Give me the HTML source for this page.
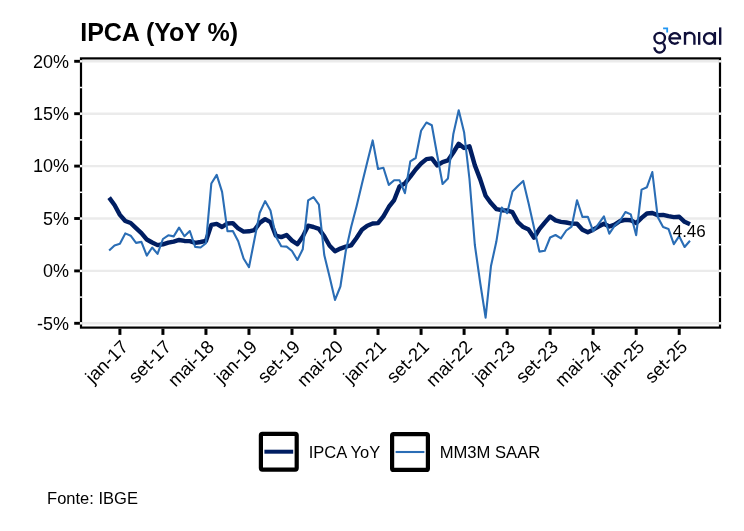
<!DOCTYPE html>
<html><head><meta charset="utf-8"><style>
html,body{margin:0;padding:0;background:#fff;width:744px;height:531px;overflow:hidden}
svg{display:block;will-change:transform}
</style></head><body>
<svg width="744" height="531" viewBox="0 0 744 531"><rect width="744" height="531" fill="#fff"/><text x="80.2" y="41" style="font-family:'Liberation Sans',sans-serif;font-weight:bold;font-size:25px" fill="#000">IPCA (YoY %)</text><line x1="81.0" x2="720.0" y1="61.30" y2="61.30" stroke="#ebebeb" stroke-width="2.4"/><line x1="81.0" x2="720.0" y1="113.70" y2="113.70" stroke="#ebebeb" stroke-width="2.4"/><line x1="81.0" x2="720.0" y1="166.10" y2="166.10" stroke="#ebebeb" stroke-width="2.4"/><line x1="81.0" x2="720.0" y1="218.50" y2="218.50" stroke="#ebebeb" stroke-width="2.4"/><line x1="81.0" x2="720.0" y1="270.90" y2="270.90" stroke="#ebebeb" stroke-width="2.4"/><line x1="81.0" x2="720.0" y1="323.30" y2="323.30" stroke="#ebebeb" stroke-width="2.4"/><rect x="81.0" y="58.4" width="639.0" height="269.20000000000005" fill="none" stroke="#000" stroke-width="2.2"/><rect x="79.70" y="60.10" width="2.6" height="2.4" fill="#f8f8f8"/><rect x="718.70" y="60.10" width="2.6" height="2.4" fill="#f8f8f8"/><rect x="79.70" y="112.50" width="2.6" height="2.4" fill="#f8f8f8"/><rect x="718.70" y="112.50" width="2.6" height="2.4" fill="#f8f8f8"/><rect x="79.70" y="164.90" width="2.6" height="2.4" fill="#f8f8f8"/><rect x="718.70" y="164.90" width="2.6" height="2.4" fill="#f8f8f8"/><rect x="79.70" y="217.30" width="2.6" height="2.4" fill="#f8f8f8"/><rect x="718.70" y="217.30" width="2.6" height="2.4" fill="#f8f8f8"/><rect x="79.70" y="269.70" width="2.6" height="2.4" fill="#f8f8f8"/><rect x="718.70" y="269.70" width="2.6" height="2.4" fill="#f8f8f8"/><rect x="79.70" y="322.10" width="2.6" height="2.4" fill="#f8f8f8"/><rect x="718.70" y="322.10" width="2.6" height="2.4" fill="#f8f8f8"/><rect x="79.70" y="86.75" width="2.6" height="1.5" fill="#fff"/><rect x="718.70" y="86.75" width="2.6" height="1.5" fill="#fff"/><rect x="79.70" y="139.15" width="2.6" height="1.5" fill="#fff"/><rect x="718.70" y="139.15" width="2.6" height="1.5" fill="#fff"/><rect x="79.70" y="191.55" width="2.6" height="1.5" fill="#fff"/><rect x="718.70" y="191.55" width="2.6" height="1.5" fill="#fff"/><rect x="79.70" y="243.95" width="2.6" height="1.5" fill="#fff"/><rect x="718.70" y="243.95" width="2.6" height="1.5" fill="#fff"/><rect x="79.70" y="296.35" width="2.6" height="1.5" fill="#fff"/><rect x="718.70" y="296.35" width="2.6" height="1.5" fill="#fff"/><line x1="74.2" x2="79.90" y1="61.30" y2="61.30" stroke="#000" stroke-width="2.9"/><line x1="74.2" x2="79.90" y1="113.70" y2="113.70" stroke="#000" stroke-width="2.9"/><line x1="74.2" x2="79.90" y1="166.10" y2="166.10" stroke="#000" stroke-width="2.9"/><line x1="74.2" x2="79.90" y1="218.50" y2="218.50" stroke="#000" stroke-width="2.9"/><line x1="74.2" x2="79.90" y1="270.90" y2="270.90" stroke="#000" stroke-width="2.9"/><line x1="74.2" x2="79.90" y1="323.30" y2="323.30" stroke="#000" stroke-width="2.9"/><text x="69.1" y="67.50" text-anchor="end" style="font-family:'Liberation Sans',sans-serif;font-size:18px" fill="#000">20%</text><text x="69.1" y="119.90" text-anchor="end" style="font-family:'Liberation Sans',sans-serif;font-size:18px" fill="#000">15%</text><text x="69.1" y="172.30" text-anchor="end" style="font-family:'Liberation Sans',sans-serif;font-size:18px" fill="#000">10%</text><text x="69.1" y="224.70" text-anchor="end" style="font-family:'Liberation Sans',sans-serif;font-size:18px" fill="#000">5%</text><text x="69.1" y="277.10" text-anchor="end" style="font-family:'Liberation Sans',sans-serif;font-size:18px" fill="#000">0%</text><text x="69.1" y="329.50" text-anchor="end" style="font-family:'Liberation Sans',sans-serif;font-size:18px" fill="#000">-5%</text><line x1="119.90" x2="119.90" y1="328.70" y2="334.9" stroke="#000" stroke-width="3.0"/><text x="119.50" y="338.50" text-anchor="end" dominant-baseline="hanging" transform="rotate(-45 119.50 338.50)" style="font-family:'Liberation Sans',sans-serif;font-size:18.4px" fill="#000">jan-17</text><line x1="162.92" x2="162.92" y1="328.70" y2="334.9" stroke="#000" stroke-width="3.0"/><text x="162.52" y="338.50" text-anchor="end" dominant-baseline="hanging" transform="rotate(-45 162.52 338.50)" style="font-family:'Liberation Sans',sans-serif;font-size:18.4px" fill="#000">set-17</text><line x1="205.95" x2="205.95" y1="328.70" y2="334.9" stroke="#000" stroke-width="3.0"/><text x="205.55" y="338.50" text-anchor="end" dominant-baseline="hanging" transform="rotate(-45 205.55 338.50)" style="font-family:'Liberation Sans',sans-serif;font-size:18.4px" fill="#000">mai-18</text><line x1="248.97" x2="248.97" y1="328.70" y2="334.9" stroke="#000" stroke-width="3.0"/><text x="248.57" y="338.50" text-anchor="end" dominant-baseline="hanging" transform="rotate(-45 248.57 338.50)" style="font-family:'Liberation Sans',sans-serif;font-size:18.4px" fill="#000">jan-19</text><line x1="292.00" x2="292.00" y1="328.70" y2="334.9" stroke="#000" stroke-width="3.0"/><text x="291.60" y="338.50" text-anchor="end" dominant-baseline="hanging" transform="rotate(-45 291.60 338.50)" style="font-family:'Liberation Sans',sans-serif;font-size:18.4px" fill="#000">set-19</text><line x1="335.02" x2="335.02" y1="328.70" y2="334.9" stroke="#000" stroke-width="3.0"/><text x="334.62" y="338.50" text-anchor="end" dominant-baseline="hanging" transform="rotate(-45 334.62 338.50)" style="font-family:'Liberation Sans',sans-serif;font-size:18.4px" fill="#000">mai-20</text><line x1="378.04" x2="378.04" y1="328.70" y2="334.9" stroke="#000" stroke-width="3.0"/><text x="377.64" y="338.50" text-anchor="end" dominant-baseline="hanging" transform="rotate(-45 377.64 338.50)" style="font-family:'Liberation Sans',sans-serif;font-size:18.4px" fill="#000">jan-21</text><line x1="421.07" x2="421.07" y1="328.70" y2="334.9" stroke="#000" stroke-width="3.0"/><text x="420.67" y="338.50" text-anchor="end" dominant-baseline="hanging" transform="rotate(-45 420.67 338.50)" style="font-family:'Liberation Sans',sans-serif;font-size:18.4px" fill="#000">set-21</text><line x1="464.09" x2="464.09" y1="328.70" y2="334.9" stroke="#000" stroke-width="3.0"/><text x="463.69" y="338.50" text-anchor="end" dominant-baseline="hanging" transform="rotate(-45 463.69 338.50)" style="font-family:'Liberation Sans',sans-serif;font-size:18.4px" fill="#000">mai-22</text><line x1="507.12" x2="507.12" y1="328.70" y2="334.9" stroke="#000" stroke-width="3.0"/><text x="506.72" y="338.50" text-anchor="end" dominant-baseline="hanging" transform="rotate(-45 506.72 338.50)" style="font-family:'Liberation Sans',sans-serif;font-size:18.4px" fill="#000">jan-23</text><line x1="550.14" x2="550.14" y1="328.70" y2="334.9" stroke="#000" stroke-width="3.0"/><text x="549.74" y="338.50" text-anchor="end" dominant-baseline="hanging" transform="rotate(-45 549.74 338.50)" style="font-family:'Liberation Sans',sans-serif;font-size:18.4px" fill="#000">set-23</text><line x1="593.16" x2="593.16" y1="328.70" y2="334.9" stroke="#000" stroke-width="3.0"/><text x="592.76" y="338.50" text-anchor="end" dominant-baseline="hanging" transform="rotate(-45 592.76 338.50)" style="font-family:'Liberation Sans',sans-serif;font-size:18.4px" fill="#000">mai-24</text><line x1="636.19" x2="636.19" y1="328.70" y2="334.9" stroke="#000" stroke-width="3.0"/><text x="635.79" y="338.50" text-anchor="end" dominant-baseline="hanging" transform="rotate(-45 635.79 338.50)" style="font-family:'Liberation Sans',sans-serif;font-size:18.4px" fill="#000">jan-25</text><line x1="679.21" x2="679.21" y1="328.70" y2="334.9" stroke="#000" stroke-width="3.0"/><text x="678.81" y="338.50" text-anchor="end" dominant-baseline="hanging" transform="rotate(-45 678.81 338.50)" style="font-family:'Liberation Sans',sans-serif;font-size:18.4px" fill="#000">set-25</text><polyline points="109.14,197.64 114.52,204.98 119.90,214.83 125.28,221.02 130.66,223.01 136.03,228.14 141.41,233.17 146.79,239.46 152.17,242.50 157.55,245.12 162.92,244.28 168.30,242.60 173.68,241.56 179.06,239.98 184.44,240.93 189.81,241.14 195.19,242.81 200.57,241.98 205.95,240.93 211.33,224.89 216.70,223.95 222.08,226.99 227.46,223.43 232.84,223.11 238.22,228.46 243.59,231.60 248.97,231.29 254.35,230.13 259.73,222.90 265.11,219.13 270.48,222.06 275.86,235.58 281.24,237.15 286.62,234.95 292.00,240.61 297.37,244.28 302.75,236.63 308.13,225.73 313.51,226.99 318.89,228.88 324.26,236.32 329.64,245.75 335.02,251.20 340.40,248.58 345.78,246.69 351.15,245.33 356.53,237.99 361.91,229.82 367.29,225.73 372.67,223.53 378.04,223.11 383.42,216.40 388.80,206.97 394.18,200.06 399.56,186.43 404.93,183.39 410.31,176.68 415.69,169.45 421.07,163.48 426.45,159.08 431.82,158.34 437.20,165.47 442.58,162.12 447.96,160.44 453.34,152.48 458.71,143.78 464.09,147.97 469.47,146.29 474.85,165.37 480.23,179.41 485.60,195.76 490.98,203.09 496.36,209.07 501.74,210.22 507.12,210.43 512.49,212.21 517.87,222.17 523.25,227.09 528.63,229.61 534.01,237.78 539.38,229.08 544.76,222.59 550.14,216.51 555.52,220.39 560.90,221.85 566.27,222.48 571.65,223.64 577.03,223.74 582.41,229.71 587.79,232.23 593.16,229.71 598.54,226.57 603.92,223.74 609.30,226.46 614.68,224.58 620.05,221.02 625.43,219.86 630.81,220.28 636.19,223.11 641.57,217.87 646.94,213.47 652.32,212.95 657.70,215.15 663.08,214.83 668.46,216.09 673.83,217.14 679.21,216.72 684.59,221.85 689.97,224.16" fill="none" stroke="#001e62" stroke-width="4.4" stroke-linejoin="round" stroke-linecap="butt"/><polyline points="109.14,250.50 114.52,245.40 119.90,243.70 125.28,233.40 130.66,235.70 136.03,242.90 141.41,241.90 146.79,255.60 152.17,247.50 157.55,253.90 162.92,239.00 168.30,235.30 173.68,236.40 179.06,227.60 184.44,236.20 189.81,231.00 195.19,246.90 200.57,247.50 205.95,243.20 211.33,183.50 216.70,174.90 222.08,191.90 227.46,231.20 232.84,231.10 238.22,241.30 243.59,258.50 248.97,267.20 254.35,240.00 259.73,212.80 265.11,201.10 270.48,210.50 275.86,236.50 281.24,246.20 286.62,246.60 292.00,251.00 297.37,260.00 302.75,249.30 308.13,200.40 313.51,197.10 318.89,204.60 324.26,255.00 329.64,277.00 335.02,299.90 340.40,286.50 345.78,251.00 351.15,227.00 356.53,206.50 361.91,184.00 367.29,162.00 372.67,140.40 378.04,169.00 383.42,167.80 388.80,184.90 394.18,180.30 399.56,180.30 404.93,193.20 410.31,161.30 415.69,158.00 421.07,130.80 426.45,122.50 431.82,125.20 437.20,155.00 442.58,184.00 447.96,178.40 453.34,133.90 458.71,110.20 464.09,132.20 469.47,179.00 474.85,245.00 480.23,283.00 485.60,317.60 490.98,266.00 496.36,241.60 501.74,207.60 507.12,213.20 512.49,191.50 517.87,186.00 523.25,180.90 528.63,203.60 534.01,227.60 539.38,251.60 544.76,250.80 550.14,237.50 555.52,235.00 560.90,238.40 566.27,230.50 571.65,226.60 577.03,200.20 582.41,216.90 587.79,216.70 593.16,231.20 598.54,223.90 603.92,216.40 609.30,233.70 614.68,225.60 620.05,220.80 625.43,212.00 630.81,214.40 636.19,235.20 641.57,189.60 646.94,187.20 652.32,172.00 657.70,217.00 663.08,227.00 668.46,228.90 673.83,244.20 679.21,236.20 684.59,247.00 689.97,240.80" fill="none" stroke="#2a6db5" stroke-width="2.1" stroke-linejoin="round"/><text x="672.7" y="236.8" style="font-family:'Liberation Sans',sans-serif;font-size:17px" fill="#000">4.46</text><rect x="260.90" y="433.80" width="35.8" height="35.8" rx="1.5" fill="#fff" stroke="#000" stroke-width="4.2"/><line x1="264.40" x2="293.20" y1="451.70" y2="451.70" stroke="#001e62" stroke-width="4.0"/><rect x="392.10" y="434.10" width="35.8" height="35.8" rx="1.5" fill="#fff" stroke="#000" stroke-width="4.2"/><line x1="395.60" x2="424.40" y1="452.00" y2="452.00" stroke="#2a6db5" stroke-width="2.1"/><text x="308.7" y="457.6" style="font-family:'Liberation Sans',sans-serif;font-size:16.5px" fill="#000">IPCA YoY</text><text x="439.7" y="457.7" style="font-family:'Liberation Sans',sans-serif;font-size:16.6px" fill="#000">MM3M SAAR</text><text x="47.1" y="504.4" style="font-family:'Liberation Sans',sans-serif;font-size:16.5px" fill="#000">Fonte: IBGE</text><g fill="none" stroke="#0f0f3a" stroke-width="2.35" stroke-linecap="butt"><circle cx="659.7" cy="38.05" r="5.25"/><path d="M663.04,43.3 A5.2,5.2 0 1 1 654.5,47.3"/><path d="M669.6,38.4 H680.0 A5.3,5.3 0 1 0 678.6,42.0"/><path d="M685.0,44.8 V32 M685.0,37.0 A4.7,4.2 0 0 1 694.4,37.0 V44.8"/><path d="M699.2,32 V44.8"/><circle cx="709.3" cy="38.4" r="5.3"/><path d="M714.9,32 V44.8"/><path d="M720.2,27.4 V44.8"/></g><path d="M663.1,28.4 H667.2 V32.4" fill="none" stroke="#2196f3" stroke-width="1.8"/></svg>
</body></html>
